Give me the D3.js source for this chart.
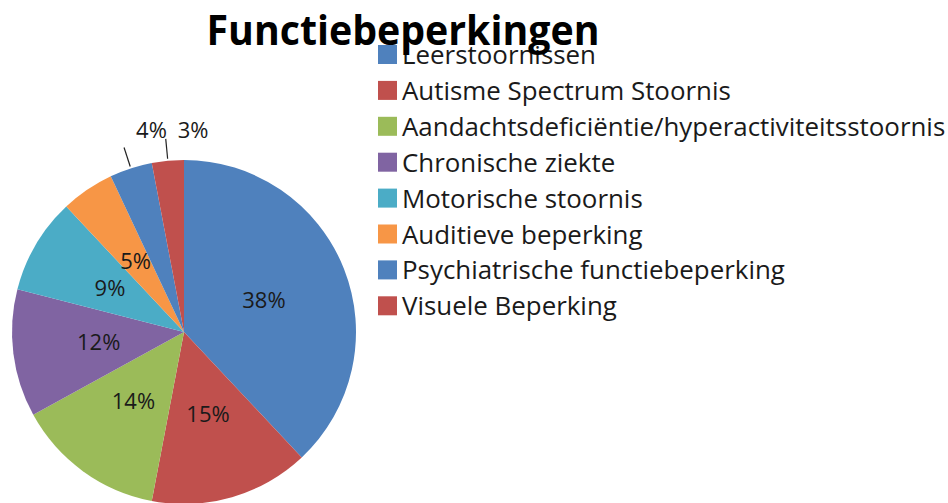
<!DOCTYPE html>
<html>
<head>
<meta charset="utf-8">
<script src="https://cdn.jsdelivr.net/npm/d3@7"></script>
<style>
  html, body { margin: 0; padding: 0; background: #fff; }
  svg { display: block; font-family: "Open Sans", sans-serif; }
</style>
</head>
<body>
<svg id="chart" width="948" height="503"></svg>
<script>
// chart data
const titleText = "Functiebeperkingen";
const categories = [
  "Leerstoornissen",
  "Autisme Spectrum Stoornis",
  "Aandachtsdeficiëntie/hyperactiviteitsstoornis",
  "Chronische ziekte",
  "Motorische stoornis",
  "Auditieve beperking",
  "Psychiatrische functiebeperking",
  "Visuele Beperking"
];
const percentages = [38, 15, 14, 12, 9, 5, 4, 3];
const sliceColors = ["#4F81BD", "#C0504D", "#9BBB59", "#8064A2", "#4BACC6", "#F79646", "#4F81BD", "#C0504D"];

const data = categories.map((name, i) => ({ name, value: percentages[i], color: sliceColors[i] }));

const svg = d3.select("#chart");
const cx = 184, cy = 332, radius = 172;

// pie
const pie = d3.pie().value(d => d.value).sort(null);
const arcs = pie(data);
const arc = d3.arc().innerRadius(0).outerRadius(radius);
const labelArc = d3.arc().innerRadius(86).outerRadius(86);

const g = svg.append("g").attr("transform", `translate(${cx},${cy})`);

g.selectAll("path.slice")
  .data(arcs)
  .enter()
  .append("path")
  .attr("class", "slice")
  .attr("d", arc)
  .attr("fill", d => d.data.color);

// inside labels
const inside = arcs.filter(d => d.data.value >= 5);
g.selectAll("text.inlabel")
  .data(inside)
  .enter()
  .append("text")
  .attr("class", "inlabel")
  .attr("x", d => labelArc.centroid(d)[0])
  .attr("y", d => labelArc.centroid(d)[1])
  .attr("dy", "0.35em")
  .attr("text-anchor", "middle")
  .attr("font-size", 22)
  .attr("fill", "#1a1a1a")
  .text(d => d.data.value + "%");

// small slices get their label above the pie, with a leader line
const outside = arcs.filter(d => d.data.value < 5);
const midAngle = d => (d.startAngle + d.endAngle) / 2;
const polar = (a, r) => [Math.sin(a) * r, -Math.cos(a) * r];

g.selectAll("line.leader")
  .data(outside)
  .enter()
  .append("line")
  .attr("class", "leader")
  .attr("x1", d => polar(midAngle(d), radius + 2)[0])
  .attr("y1", d => polar(midAngle(d), radius + 2)[1])
  .attr("x2", d => polar(midAngle(d), radius + 22)[0])
  .attr("y2", d => polar(midAngle(d), radius + 22)[1])
  .attr("stroke", "#222")
  .attr("stroke-width", 1.2);

g.selectAll("text.outlabel")
  .data(outside)
  .enter()
  .append("text")
  .attr("class", "outlabel")
  .attr("x", d => polar(midAngle(d), radius + 22)[0] + 12)
  .attr("y", -(radius + 30))
  .attr("dy", "0.35em")
  .attr("text-anchor", "start")
  .attr("font-size", 22)
  .attr("fill", "#1a1a1a")
  .text(d => d.data.value + "%");

// legend
const legend = svg.append("g").attr("transform", "translate(378,55)");
const rowStep = 35.9;
const items = legend.selectAll("g.item")
  .data(data)
  .enter()
  .append("g")
  .attr("class", "item")
  .attr("transform", (d, i) => `translate(0,${i * rowStep})`);

items.append("rect")
  .attr("x", 0)
  .attr("y", -10)
  .attr("width", 19)
  .attr("height", 19)
  .attr("fill", d => d.color);

items.append("text")
  .attr("x", 24)
  .attr("y", 0)
  .attr("dy", "0.35em")
  .attr("font-size", 25.9)
  .attr("fill", "#1a1a1a")
  .text(d => d.name);

// title (drawn last so it overlaps the first legend row like the original)
svg.append("text")
  .attr("x", 403)
  .attr("y", 45)
  .attr("text-anchor", "middle")
  .attr("font-size", 41)
  .attr("font-weight", "bold")
  .attr("fill", "#000")
  .attr("textLength", 393)
  .attr("lengthAdjust", "spacingAndGlyphs")
  .text(titleText);
</script>
</body>
</html>
